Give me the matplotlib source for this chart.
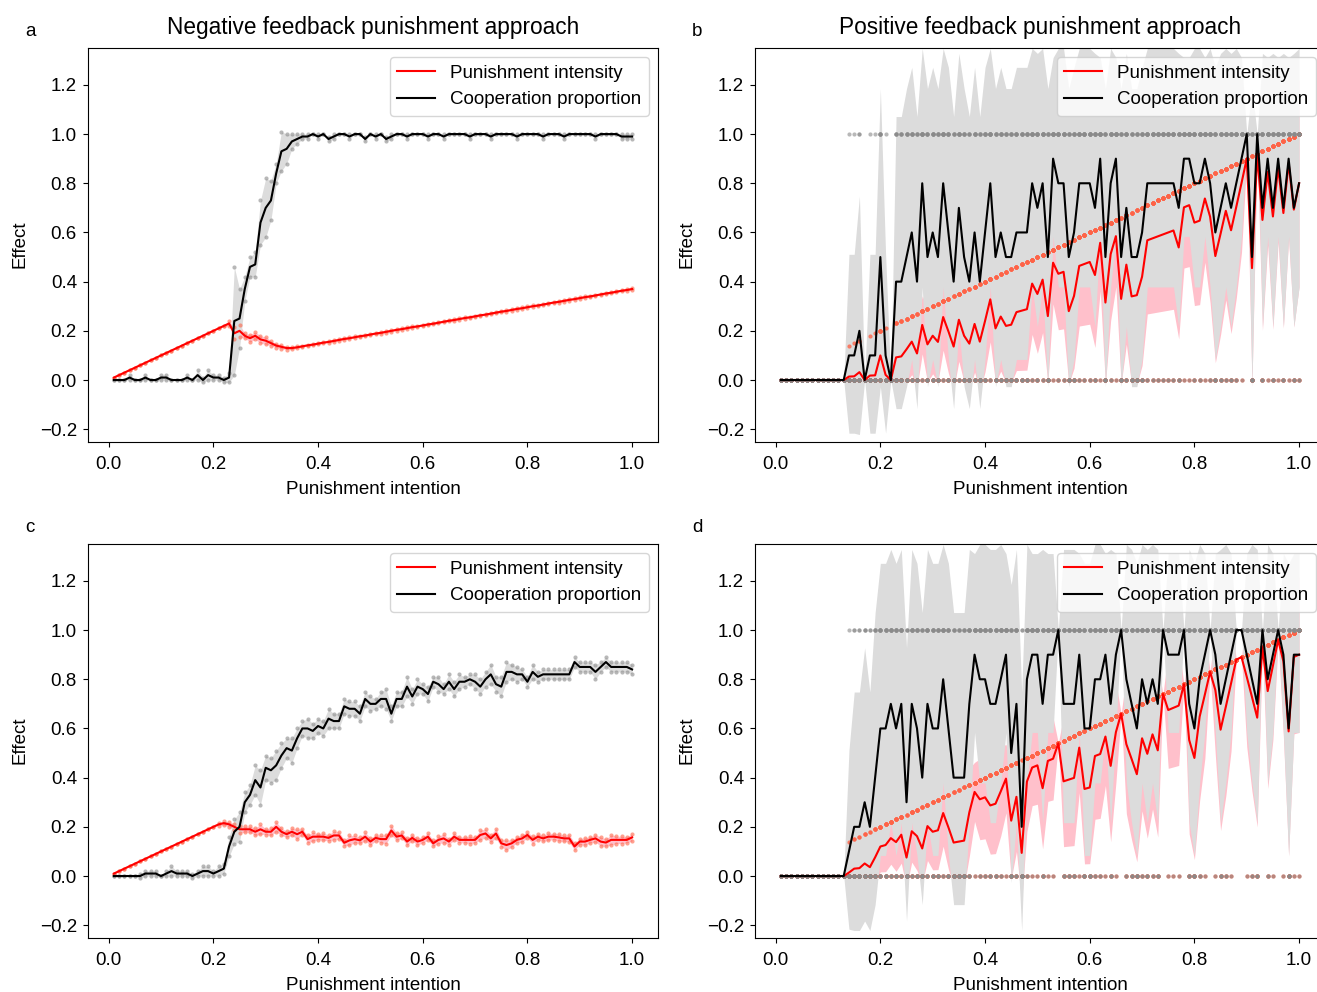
import numpy as np
import matplotlib
matplotlib.use("Agg")
import matplotlib.pyplot as plt

plt.rcParams['font.family'] = ['Liberation Sans', 'DejaVu Sans']
plt.rcParams['font.size'] = 13.5
plt.rcParams['xtick.major.pad'] = 7.0
plt.rcParams['ytick.major.pad'] = 4.5

# punishment intention grid (0.01 ... 1.00)
intention = np.round(np.arange(1, 101) * 0.01, 2)
n_runs = 10

# ---- panel a : negative feedback, run means and sd ----
coop_a = [0.00, 0.00, 0.00, 0.01, 0.00, 0.00, 0.01, 0.00, 0.00, 0.01,
          0.01, 0.00, 0.00, 0.00, 0.01, 0.00, 0.02, 0.00, 0.02, 0.01,
          0.01, 0.00, 0.01, 0.24, 0.25, 0.37, 0.46, 0.47, 0.64, 0.70,
          0.73, 0.84, 0.93, 0.94, 0.97, 0.98, 0.99, 0.99, 1.00, 0.99,
          1.00, 0.98, 0.99, 1.00, 1.00, 0.99, 1.00, 1.00, 0.98, 1.00,
          0.99, 1.00, 0.98, 0.99, 1.00, 1.00, 0.99, 1.00, 1.00, 1.00,
          0.99, 1.00, 1.00, 0.99, 1.00, 1.00, 1.00, 1.00, 0.99, 1.00,
          1.00, 1.00, 0.99, 1.00, 1.00, 1.00, 1.00, 0.99, 1.00, 1.00,
          1.00, 1.00, 0.99, 1.00, 1.00, 1.00, 0.99, 1.00, 1.00, 1.00,
          1.00, 1.00, 0.99, 1.00, 1.00, 1.00, 1.00, 0.99, 0.99, 0.99]
coop_a_sd = [0.00, 0.00, 0.00, 0.01, 0.00, 0.00, 0.01, 0.00, 0.00, 0.01,
             0.01, 0.00, 0.00, 0.00, 0.01, 0.00, 0.02, 0.01, 0.02, 0.01,
             0.01, 0.01, 0.02, 0.22, 0.12, 0.05, 0.04, 0.05, 0.09, 0.12,
             0.08, 0.04, 0.08, 0.06, 0.03, 0.02, 0.01, 0.01, 0.00, 0.01,
             0.00, 0.01, 0.01, 0.00, 0.00, 0.01, 0.00, 0.00, 0.01, 0.00,
             0.01, 0.00, 0.01, 0.01, 0.00, 0.00, 0.01, 0.00, 0.00, 0.00,
             0.01, 0.00, 0.00, 0.01, 0.00, 0.00, 0.00, 0.00, 0.01, 0.00,
             0.00, 0.00, 0.01, 0.00, 0.00, 0.00, 0.00, 0.01, 0.00, 0.00,
             0.00, 0.00, 0.01, 0.00, 0.00, 0.00, 0.01, 0.00, 0.00, 0.00,
             0.00, 0.00, 0.01, 0.00, 0.00, 0.00, 0.00, 0.01, 0.01, 0.01]
pun_a = [0.01, 0.02, 0.03, 0.04, 0.05, 0.06, 0.07, 0.08, 0.09, 0.10,
         0.11, 0.12, 0.13, 0.14, 0.15, 0.16, 0.17, 0.18, 0.19, 0.20,
         0.21, 0.22, 0.23, 0.19, 0.20, 0.18, 0.17, 0.18, 0.165, 0.16,
         0.15, 0.14, 0.135, 0.13, 0.13, 0.133, 0.137, 0.141, 0.144, 0.148,
         0.152, 0.155, 0.159, 0.163, 0.167, 0.170, 0.174, 0.178, 0.181, 0.185,
         0.189, 0.192, 0.196, 0.200, 0.204, 0.207, 0.211, 0.215, 0.218, 0.222,
         0.226, 0.229, 0.233, 0.237, 0.241, 0.244, 0.248, 0.252, 0.255, 0.259,
         0.263, 0.266, 0.270, 0.274, 0.278, 0.281, 0.285, 0.289, 0.292, 0.296,
         0.300, 0.303, 0.307, 0.311, 0.315, 0.318, 0.322, 0.326, 0.329, 0.333,
         0.337, 0.340, 0.344, 0.348, 0.352, 0.355, 0.359, 0.363, 0.366, 0.370]
pun_a_sd = [0.0, 0.0, 0.0, 0.0, 0.0, 0.0, 0.0, 0.0, 0.0, 0.0,
            0.0, 0.0, 0.0, 0.0, 0.0, 0.0, 0.0, 0.0, 0.0, 0.0,
            0.0, 0.0, 0.01, 0.025, 0.025, 0.01, 0.015, 0.015, 0.015, 0.015,
            0.01, 0.008, 0.008, 0.006, 0.005, 0.004, 0.003, 0.003, 0.003, 0.003,
            0.003, 0.003, 0.003, 0.003, 0.003, 0.003, 0.003, 0.003, 0.003, 0.003,
            0.003, 0.003, 0.003, 0.003, 0.003, 0.003, 0.003, 0.003, 0.003, 0.003,
            0.003, 0.003, 0.003, 0.003, 0.003, 0.003, 0.003, 0.003, 0.003, 0.003,
            0.003, 0.003, 0.003, 0.003, 0.003, 0.003, 0.003, 0.003, 0.003, 0.003,
            0.003, 0.003, 0.003, 0.003, 0.003, 0.003, 0.003, 0.003, 0.003, 0.003,
            0.003, 0.003, 0.003, 0.003, 0.003, 0.003, 0.003, 0.003, 0.003, 0.003]

# ---- panel c : negative feedback, second setting ----
coop_c = [0.00, 0.00, 0.00, 0.00, 0.00, 0.00, 0.01, 0.01, 0.01, 0.00,
          0.01, 0.02, 0.01, 0.01, 0.01, 0.00, 0.01, 0.02, 0.02, 0.01,
          0.02, 0.03, 0.12, 0.18, 0.20, 0.30, 0.33, 0.39, 0.36, 0.44,
          0.43, 0.45, 0.49, 0.52, 0.51, 0.56, 0.60, 0.60, 0.59, 0.61,
          0.60, 0.64, 0.63, 0.63, 0.69, 0.68, 0.68, 0.66, 0.72, 0.70,
          0.70, 0.72, 0.72, 0.66, 0.72, 0.72, 0.77, 0.73, 0.77, 0.76,
          0.74, 0.79, 0.78, 0.76, 0.79, 0.76, 0.79, 0.79, 0.80, 0.79,
          0.77, 0.80, 0.82, 0.78, 0.77, 0.83, 0.83, 0.82, 0.82, 0.79,
          0.83, 0.81, 0.82, 0.82, 0.82, 0.82, 0.82, 0.82, 0.87, 0.85,
          0.85, 0.85, 0.83, 0.85, 0.87, 0.85, 0.85, 0.85, 0.85, 0.84]
coop_c_sd = [0.00, 0.00, 0.00, 0.00, 0.00, 0.01, 0.01, 0.01, 0.01, 0.00,
             0.01, 0.02, 0.01, 0.01, 0.01, 0.01, 0.01, 0.02, 0.02, 0.01,
             0.02, 0.02, 0.04, 0.05, 0.06, 0.04, 0.04, 0.06, 0.07, 0.05,
             0.05, 0.06, 0.05, 0.04, 0.05, 0.04, 0.03, 0.04, 0.03, 0.03,
             0.03, 0.04, 0.03, 0.03, 0.03, 0.03, 0.03, 0.03, 0.03, 0.03,
             0.02, 0.03, 0.04, 0.03, 0.03, 0.03, 0.04, 0.03, 0.03, 0.02,
             0.03, 0.02, 0.03, 0.02, 0.03, 0.03, 0.03, 0.02, 0.02, 0.03,
             0.03, 0.03, 0.04, 0.03, 0.04, 0.04, 0.03, 0.03, 0.02, 0.02,
             0.03, 0.02, 0.02, 0.02, 0.02, 0.02, 0.02, 0.02, 0.02, 0.02,
             0.02, 0.02, 0.03, 0.02, 0.02, 0.02, 0.02, 0.02, 0.02, 0.02]
pun_c = [0.01, 0.02, 0.03, 0.04, 0.05, 0.06, 0.07, 0.08, 0.09, 0.10,
         0.11, 0.12, 0.13, 0.14, 0.15, 0.16, 0.17, 0.18, 0.19, 0.20,
         0.21, 0.215, 0.21, 0.20, 0.19, 0.19, 0.19, 0.18, 0.19, 0.18,
         0.18, 0.20, 0.18, 0.17, 0.18, 0.17, 0.18, 0.15, 0.16, 0.16,
         0.16, 0.155, 0.165, 0.165, 0.135, 0.145, 0.15, 0.145, 0.16, 0.14,
         0.155, 0.15, 0.15, 0.185, 0.16, 0.165, 0.14, 0.155, 0.14, 0.147,
         0.16, 0.133, 0.147, 0.153, 0.14, 0.16, 0.147, 0.147, 0.147, 0.147,
         0.167, 0.173, 0.153, 0.173, 0.133, 0.126, 0.133, 0.147, 0.153, 0.167,
         0.147, 0.16, 0.153, 0.16, 0.16, 0.157, 0.153, 0.153, 0.12, 0.14,
         0.14, 0.147, 0.153, 0.14, 0.136, 0.147, 0.147, 0.147, 0.147, 0.157]
pun_c_sd = [0.0, 0.0, 0.0, 0.0, 0.0, 0.0, 0.0, 0.0, 0.0, 0.0,
            0.0, 0.0, 0.0, 0.0, 0.0, 0.0, 0.0, 0.0, 0.0, 0.0,
            0.005, 0.008, 0.01, 0.012, 0.015, 0.012, 0.012, 0.015, 0.02, 0.012,
            0.015, 0.02, 0.015, 0.012, 0.015, 0.02, 0.012, 0.015, 0.018, 0.012,
            0.015, 0.012, 0.018, 0.015, 0.012, 0.02, 0.015, 0.012, 0.018, 0.015,
            0.012, 0.015, 0.018, 0.02, 0.015, 0.012, 0.015, 0.012, 0.015, 0.012,
            0.015, 0.012, 0.015, 0.018, 0.012, 0.015, 0.012, 0.012, 0.015, 0.012,
            0.02, 0.018, 0.015, 0.02, 0.015, 0.02, 0.015, 0.012, 0.015, 0.012,
            0.015, 0.012, 0.012, 0.015, 0.012, 0.015, 0.012, 0.015, 0.015, 0.012,
            0.015, 0.012, 0.015, 0.018, 0.015, 0.02, 0.015, 0.015, 0.012, 0.015]

# ---- panels b, d : positive feedback, share of cooperating runs (of 10) ----
coop_b = [0.0, 0.0, 0.0, 0.0, 0.0, 0.0, 0.0, 0.0, 0.0, 0.0,
          0.0, 0.0, 0.0, 0.1, 0.1, 0.2, 0.0, 0.1, 0.1, 0.5,
          0.1, 0.0, 0.4, 0.4, 0.5, 0.6, 0.4, 0.8, 0.5, 0.6,
          0.5, 0.8, 0.6, 0.4, 0.7, 0.5, 0.4, 0.6, 0.4, 0.6,
          0.8, 0.5, 0.6, 0.5, 0.5, 0.6, 0.6, 0.6, 0.8, 0.7,
          0.8, 0.5, 0.9, 0.8, 0.8, 0.5, 0.6, 0.8, 0.8, 0.8,
          0.7, 0.9, 0.5, 0.8, 0.9, 0.5, 0.7, 0.5, 0.5, 0.6,
          0.8, 0.8, 0.8, 0.8, 0.8, 0.8, 0.7, 0.9, 0.9, 0.8,
          0.8, 0.9, 0.8, 0.6, 0.7, 0.8, 0.7, 0.8, 0.9, 1.0,
          0.5, 1.0, 0.7, 0.9, 0.7, 0.9, 0.7, 0.9, 0.7, 0.8]
coop_d = [0.0, 0.0, 0.0, 0.0, 0.0, 0.0, 0.0, 0.0, 0.0, 0.0,
          0.0, 0.0, 0.0, 0.1, 0.2, 0.2, 0.3, 0.2, 0.4, 0.6,
          0.6, 0.7, 0.6, 0.7, 0.3, 0.7, 0.6, 0.4, 0.7, 0.6,
          0.6, 0.8, 0.6, 0.4, 0.4, 0.4, 0.7, 0.9, 0.8, 0.8,
          0.7, 0.7, 0.8, 0.9, 0.5, 0.7, 0.2, 0.8, 0.9, 0.9,
          0.7, 0.9, 0.9, 1.0, 0.7, 0.7, 0.7, 0.9, 0.6, 0.6,
          0.8, 0.8, 0.9, 0.7, 0.9, 1.0, 0.8, 0.7, 0.6, 0.8,
          0.7, 0.8, 0.7, 1.0, 0.9, 0.9, 0.9, 1.0, 0.7, 0.6,
          0.8, 0.9, 1.0, 0.9, 0.7, 0.8, 0.9, 1.0, 1.0, 0.9,
          0.8, 0.7, 1.0, 0.8, 0.9, 1.0, 0.9, 0.6, 0.9, 0.9]

titles = ["Negative feedback punishment approach", "Positive feedback punishment approach"]

C_BAND = '#dcdcdc'
P_BAND = 'pink'
C_DOT = '#8a8a8a'
P_DOT = 'tomato'
UPPER_SPREAD = 1.3   # upper side of the cooperation band in b/d reaches further

fig = plt.figure(figsize=(13.17, 9.92), dpi=100)
W, H = 1317.0, 992.0


def make_ax(left, top):
    return fig.add_axes([left / W, 1 - (top + 393.5) / H, 570 / W, 393.5 / H])


def finish(ax):
    ax.set_xlim(-0.0395, 1.0495)
    ax.set_ylim(-0.25, 1.35)
    ax.set_xticks([0.0, 0.2, 0.4, 0.6, 0.8, 1.0])
    ax.set_yticks([-0.2, 0.0, 0.2, 0.4, 0.6, 0.8, 1.0, 1.2])
    ax.set_xlabel("Punishment intention", labelpad=5.5)
    ax.set_ylabel("Effect", labelpad=8)
    ax.legend(loc='upper right')


def negative_panel(ax, coop, coop_sd, pun, pun_sd):
    x = intention
    coop = np.array(coop); coop_sd = np.array(coop_sd)
    pun = np.array(pun); pun_sd = np.array(pun_sd)
    ax.fill_between(x, pun - pun_sd, pun + pun_sd, color=P_BAND, lw=0, zorder=1)
    ax.fill_between(x, coop - coop_sd, coop + coop_sd, color=C_BAND, lw=0, zorder=1.1)
    for s in (-1, 1):
        ax.scatter(x, coop + s * coop_sd, s=9, color=C_DOT, alpha=0.6, lw=0, zorder=2)
        ax.scatter(x, pun + s * pun_sd, s=9, color=P_DOT, alpha=0.6, lw=0, zorder=2)
    ax.plot(x, pun, color='red', lw=1.5, label="Punishment intensity", zorder=3)
    ax.plot(x, coop, color='black', lw=1.5, label="Cooperation proportion", zorder=3)


def positive_panel(ax, coop_share):
    x = intention
    k = np.round(np.array(coop_share) * n_runs).astype(int)
    # individual runs: cooperating runs keep punishment at the intention level
    runs_c = (np.arange(n_runs)[None, :] < k[:, None]).astype(float)
    runs_p = runs_c * x[:, None]
    c_mean, c_sd = runs_c.mean(1), runs_c.std(1, ddof=1)
    p_mean, p_sd = runs_p.mean(1), runs_p.std(1, ddof=1)
    ax.fill_between(x, p_mean - p_sd, p_mean + p_sd, color=P_BAND, lw=0, zorder=1)
    ax.fill_between(x, c_mean - c_sd, c_mean + UPPER_SPREAD * c_sd,
                    color=C_BAND, lw=0, zorder=1.1)
    xr = np.repeat(x, n_runs)
    ax.scatter(xr, runs_p.ravel(), s=9, color=P_DOT, alpha=0.8, lw=0, zorder=2)
    ax.scatter(xr, runs_c.ravel(), s=9, color=C_DOT, alpha=0.6, lw=0, zorder=2)
    ax.plot(x, p_mean, color='red', lw=1.5, label="Punishment intensity", zorder=3)
    ax.plot(x, c_mean, color='black', lw=1.5, label="Cooperation proportion", zorder=3)


ax_a = make_ax(88, 48)
negative_panel(ax_a, coop_a, coop_a_sd, pun_a, pun_a_sd)
finish(ax_a)
ax_a.set_title(titles[0], fontsize=16.3, pad=10)

ax_b = make_ax(755, 48)
positive_panel(ax_b, coop_b)
finish(ax_b)
ax_b.set_title(titles[1], fontsize=16.3, pad=10)

ax_c = make_ax(88, 544)
negative_panel(ax_c, coop_c, coop_c_sd, pun_c, pun_c_sd)
finish(ax_c)

ax_d = make_ax(755, 544)
positive_panel(ax_d, coop_d)
finish(ax_d)

for lab, px, py in [("a", 30, 31), ("b", 697, 31), ("c", 30, 527), ("d", 697, 527)]:
    fig.text(px / W, 1 - py / H, lab, ha='center', va='center', fontsize=13.5)

fig.savefig("out.png", dpi=100)
